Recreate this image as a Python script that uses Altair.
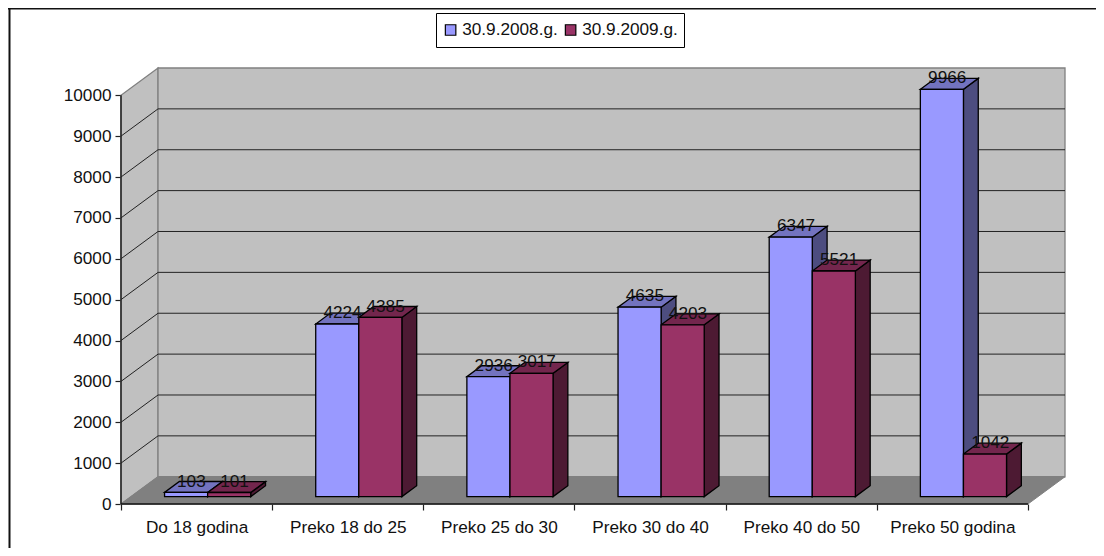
import altair as alt
import pandas as pd

categories = ["Do 18 godina", "Preko 18 do 25", "Preko 25 do 30", "Preko 30 do 40", "Preko 40 do 50", "Preko 50 godina"]
series_names = ["30.9.2008.g.", "30.9.2009.g."]
values_2008 = [103, 4224, 2936, 4635, 6347, 9966]
values_2009 = [101, 4385, 3017, 4203, 5521, 1042]
y_ticks = [0, 1000, 2000, 3000, 4000, 5000, 6000, 7000, 8000, 9000, 10000]

front_colors = ["#9999FF", "#993366"]
side_colors = ["#4D4D80", "#4D1A33"]
top_colors = ["#7373BF", "#73264D"]

# oblique projection of the 3D box: depth expressed in axis units
DX, DY = 0.245, 667
FONT = "Liberation Sans"
FS = 17.2
W, H = 944, 436
INK = "#111111"

cat_expr = "{" + ",".join(f"'{i + 0.5}':'{n}'" for i, n in enumerate(categories)) + "}[toString(datum.value)] || ''"

xs = alt.Scale(domain=[0, 6 + DX], range=[0, W], nice=False, zero=False)
ys = alt.Scale(domain=[0, 10000 + DY], range=[H, 0], nice=False, zero=False)
x_axis = alt.Axis(
    values=[i / 2 for i in range(13)], labelExpr=cat_expr, title=None, domain=False, grid=False,
    tickSize=6, tickColor="#222222", tickWidth=1.2,
    tickOpacity=alt.condition("datum.value % 1 == 0", alt.value(1), alt.value(0)),
    labelFont=FONT, labelFontSize=FS, labelColor=INK, labelPadding=8, labelOverlap=False, labelFlush=False,
)
y_axis = alt.Axis(
    values=y_ticks, format="d", title=None, domain=False, grid=False,
    tickSize=6, tickColor="#222222", tickWidth=1.2,
    labelFont=FONT, labelFontSize=FS, labelColor=INK, labelPadding=4, labelOverlap=False, labelFlush=False,
)
X = alt.X("x:Q", scale=xs, axis=x_axis)
Y = alt.Y("y:Q", scale=ys, axis=y_axis)
Y2 = alt.Y2("y2:Q")

# walls and floor
def area(rows, name):
    return [{"poly": name, "x": a, "y": b, "y2": c} for a, b, c in rows]

left_wall = pd.DataFrame(area([(0, 0, 10000), (DX, DY, 10000 + DY)], "left"))
floor = pd.DataFrame(area([(0, 0, 0), (DX, 0, DY), (6, 0, DY), (6 + DX, DY, DY)], "floor"))
back_wall = pd.DataFrame([{"x": DX, "x2": 6 + DX, "y": DY, "y2": 10000 + DY}])

grid_rows = []
for v in y_ticks[1:-1]:
    grid_rows += [
        {"v": v, "k": 0, "x": 0, "y": v},
        {"v": v, "k": 1, "x": DX, "y": v + DY},
        {"v": v, "k": 2, "x": 6 + DX, "y": v + DY},
    ]
grid = pd.DataFrame(grid_rows)

# bars
BAR_W, GAP = 0.285, 0.222
D0, BX, BY = 0.27, 0.40 * DX, 0.40 * DY
faces, fronts, labels = [], [], []
for c in range(6):
    for s, vals in enumerate([values_2008, values_2009]):
        v = vals[c]
        L = c + GAP + s * BAR_W + D0 * DX
        R = L + BAR_W
        b = D0 * DY
        t = b + v
        fronts.append({"series": series_names[s], "x": L, "x2": R, "y": b, "y2": t})
        pid = f"{c}-{s}"
        for a, p, q in [(R, b, t), (R + BX, b + BY, t + BY)]:
            faces.append({"poly": pid + "s", "fill": side_colors[s], "x": a, "y": p, "y2": q})
        for a, p, q in [(L, t, t), (L + BX, t, t + BY), (R, t, t + BY), (R + BX, t + BY, t + BY)]:
            faces.append({"poly": pid + "t", "fill": top_colors[s], "x": a, "y": p, "y2": q})
        labels.append({"x": (L + R) / 2 + BX / 2 - 0.014, "y": t + BY, "label": str(v)})
faces = pd.DataFrame(faces)
fronts = pd.DataFrame(fronts)
labels = pd.DataFrame(labels)

axes_layer = alt.Chart(left_wall).mark_area(fill="#C0C0C0", stroke="#808080", strokeWidth=1.3).encode(
    x=X, y=Y, y2=Y2, detail="poly:N")

back = alt.Chart(back_wall).mark_rect(fill="#C0C0C0", stroke="#808080", strokeWidth=1.3).encode(
    x=X, x2="x2:Q", y=Y, y2=Y2)

floor_layer = alt.Chart(floor).mark_area(fill="#808080", stroke="#808080", strokeWidth=1).encode(
    x=X, y=Y, y2=Y2, detail="poly:N")

grid_layer = alt.Chart(grid).mark_line(color="#222222", strokeWidth=1).encode(
    x=X, y=Y, detail="v:N", order="k:O")

y_line = alt.Chart(pd.DataFrame([{"x": 0, "y": 0, "y2": 10000}])).mark_rule(color="#222222", strokeWidth=1.5).encode(
    x=X, y=Y, y2=Y2)
x_line = alt.Chart(pd.DataFrame([{"x": 0, "x2": 6, "y": 0}])).mark_rule(color="#111111", strokeWidth=1.5).encode(
    x=X, x2="x2:Q", y=Y)

face_layer = alt.Chart(faces).mark_area(stroke="#000000", strokeWidth=1.3).encode(
    x=X, y=Y, y2=Y2, detail="poly:N",
    fill=alt.Fill("fill:N", scale=None),
)

front_layer = alt.Chart(fronts).mark_rect(stroke="#000000", strokeWidth=1.3).encode(
    x=X, x2="x2:Q", y=Y, y2=Y2,
    color=alt.Color("series:N", scale=alt.Scale(domain=series_names, range=front_colors), legend=alt.Legend(
        title=None, orient="none", legendX=315, legendY=-55, direction="horizontal",
        symbolType="square", symbolSize=110, symbolStrokeColor="#000000", symbolStrokeWidth=1.2,
        fillColor="#FFFFFF", strokeColor="#000000", padding=6, columnPadding=4, labelOffset=3,
        clipHeight=22,
        labelFont=FONT, labelFontSize=FS, labelColor=INK, symbolOpacity=1,
    )),
)

label_layer = alt.Chart(labels).mark_text(font=FONT, fontSize=FS, color=INK, baseline="middle", align="center").encode(
    x=X, y=Y, text="label:N")

frame_top = alt.Chart(pd.DataFrame([{"a": 1}])).mark_rule(color="#111111", strokeWidth=2).encode(
    x=alt.value(-113), x2=alt.value(W + 31), y=alt.value(-59.5))
frame_left = alt.Chart(pd.DataFrame([{"a": 1}])).mark_rule(color="#111111", strokeWidth=2).encode(
    x=alt.value(-111.5), y=alt.value(-60), y2=alt.value(H + 44))

chart = alt.layer(
    axes_layer, back, floor_layer, grid_layer, y_line, x_line, face_layer, front_layer, label_layer, frame_top, frame_left
).properties(
    width=W, height=H,
    autosize=alt.AutoSizeParams(type="none"),
    padding={"left": 113, "top": 60, "right": 31, "bottom": 44},
    background="#FFFFFF",
).configure_view(stroke=None).configure_legend(rowPadding=0)

chart.save("out.html", embed_options={"renderer": "svg", "actions": False})
